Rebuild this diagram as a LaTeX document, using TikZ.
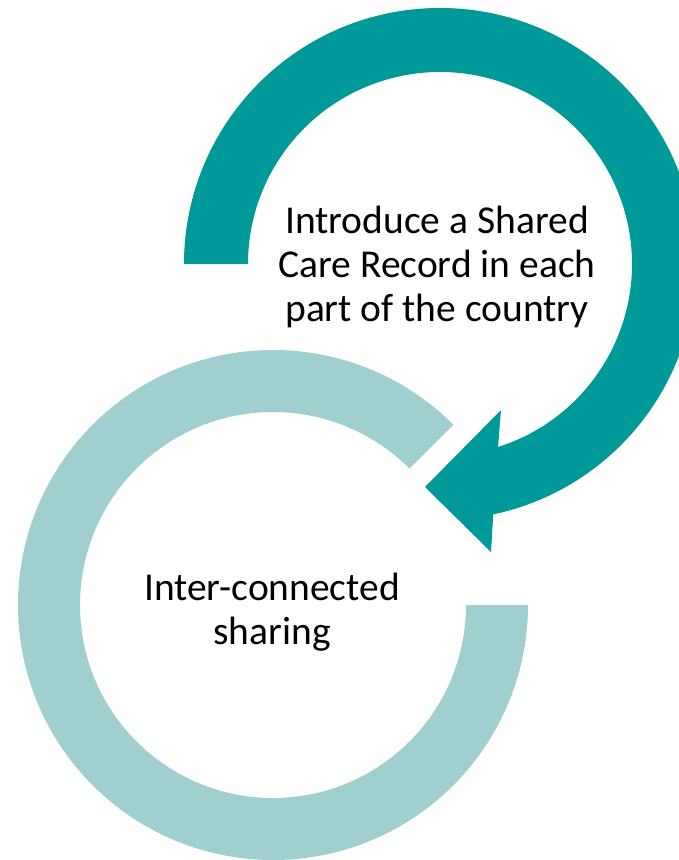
\documentclass[tikz,border=0pt]{standalone}
\usepackage{fontspec}
\setmainfont{Carlito}
\usetikzlibrary{calc}
\definecolor{darkteal}{RGB}{0,153,153}
\definecolor{lightteal}{RGB}{160,207,207}
\begin{document}
\begin{tikzpicture}[x=1pt,y=1pt,
  lbl/.style={align=center,text=black,font=\fontsize{39.5}{44}\selectfont,inner sep=0pt}]
\useasboundingbox (0,0) rectangle (679,-860);
\clip (0,0) rectangle (679,-860);
% light ring
\coordinate (lc) at (273,-605);
\fill[lightteal] ($(lc)+(45:255)$) arc[start angle=45,end angle=360,radius=255]
  -- ($(lc)+(0:193)$) arc[start angle=360,end angle=45,radius=193] -- cycle;
% dark arrow
\coordinate (dc) at (440,-264);
\coordinate (lw) at (491,-552);
\coordinate (tip) at (425,-487);
\coordinate (uw) at (501,-410);
\fill[darkteal] ($(dc)+(180:256)$) arc[start angle=180,end angle=-78,radius=256]
  -- (lw) -- (tip) -- (uw)
  -- ($(dc)+(-72.4:192)$) arc[start angle=-72.4,end angle=180,radius=192] -- cycle;
\node[lbl] (t1) at (437,-267) {Introduce a Shared\\Care Record in each\\part of the country};
\node[lbl] (t2) at (272,-612) {Inter-connected\\sharing};
\end{tikzpicture}
\end{document}
